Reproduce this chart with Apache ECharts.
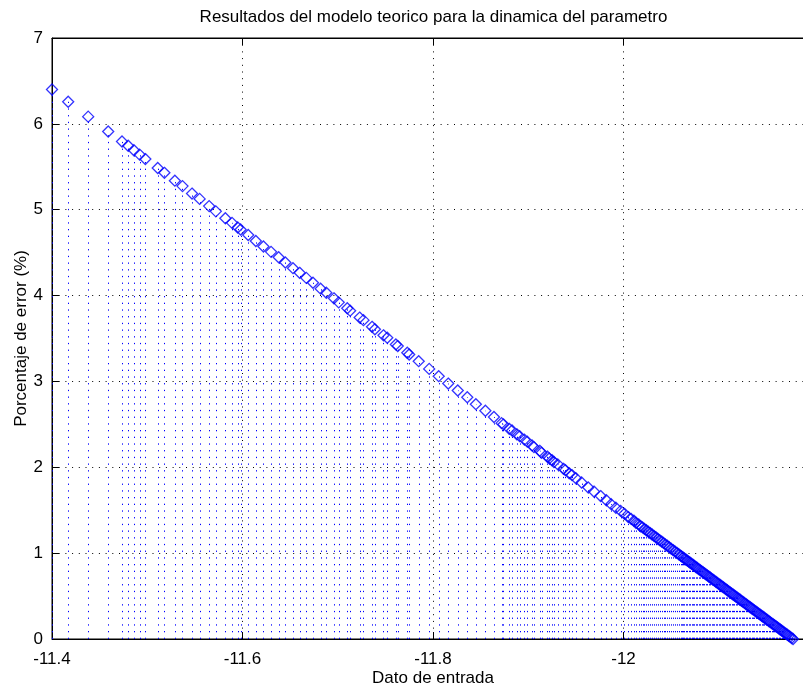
<!DOCTYPE html>
<html><head><meta charset="utf-8">
<script src="https://cdn.jsdelivr.net/npm/echarts@6/dist/echarts.min.js"></script>
<style>html,body{margin:0;padding:0;background:#fff}#c{width:803px;height:688px}</style>
</head><body><div id="c"></div>
<script>
const titulo = 'Resultados del modelo teorico para la dinamica del parametro';
const nombreX = 'Dato de entrada';
const nombreY = 'Porcentaje de error (%)';
const ticksX = [-11.4, -11.6, -11.8, -12, -12.2];
const ticksY = [0, 1, 2, 3, 4, 5, 6, 7];

const datoEntrada = [
  -11.400,-11.417,-11.438,-11.459,-11.4735,-11.480,-11.486,-11.492,-11.498,-11.511,
  -11.518,-11.529,-11.537,-11.547,-11.555,-11.565,-11.572,-11.582,-11.589,-11.595,
  -11.598,-11.606,-11.614,-11.622,-11.630,-11.638,-11.645,-11.653,-11.660,-11.667,
  -11.674,-11.682,-11.688,-11.696,-11.701,-11.710,-11.713,-11.723,-11.727,-11.736,
  -11.739,-11.748,-11.752,-11.761,-11.763,-11.773,-11.775,-11.785,-11.796,-11.806,
  -11.816,-11.826,-11.836,-11.845,-11.855,-11.864,-11.872,-11.874,-11.880,-11.883,
  -11.888,-11.891,-11.896,-11.899,-11.904,-11.906,-11.912,-11.914,-11.920,-11.922,
  -11.925,-11.927,-11.931,-11.937,-11.939,-11.943,-11.946,-11.950,-11.956,-11.963,
  -11.969,-11.976,-11.982,-11.987,-11.992,-11.997,-12.001,-12.005,-12.008,-12.011,
  -12.013,-12.016,-12.018,
  -12.020,-12.022,-12.024,-12.026,-12.028,-12.030,-12.032,-12.034,-12.036,-12.038,
  -12.040,-12.042,-12.044,-12.046,-12.048,-12.050,-12.052,-12.054,-12.056,-12.058,
  -12.060,
  -12.0610,-12.0625,-12.0640,-12.0655,-12.0670,-12.0685,-12.0700,-12.0715,-12.0730,-12.0745,
  -12.0760,-12.0775,-12.0790,-12.0805,-12.0820,-12.0835,-12.0850,-12.0865,-12.0880,-12.0895,
  -12.0910,-12.0925,-12.0940,-12.0955,-12.0970,-12.0985,-12.1000,-12.1015,-12.1030,-12.1045,
  -12.1060,-12.1075,-12.1090,-12.1105,-12.1120,-12.1135,-12.1150,-12.1165,-12.1180,-12.1195,
  -12.1210,-12.1225,-12.1240,-12.1255,-12.1270,-12.1285,-12.1300,-12.1315,-12.1330,-12.1345,
  -12.1360,-12.1375,-12.1390,-12.1405,-12.1420,-12.1435,-12.1450,-12.1465,-12.1480,-12.1495,
  -12.1510,-12.1525,-12.1540,-12.1555,-12.1570,-12.1585,-12.1600,-12.1615,-12.1630,-12.1645,
  -12.1660,-12.1675,-12.1690,-12.1705,-12.1720,-12.1735,-12.1750,-12.1765,-12.1780
];

const porcentajeError = [
  6.400,6.257,6.084,5.911,5.795,5.745,5.693,5.642,5.590,5.486,
  5.430,5.338,5.275,5.188,5.126,5.042,4.981,4.901,4.847,4.793,
  4.770,4.705,4.636,4.572,4.509,4.446,4.385,4.319,4.265,4.206,
  4.149,4.080,4.033,3.968,3.921,3.852,3.824,3.744,3.714,3.636,
  3.608,3.537,3.509,3.431,3.412,3.334,3.314,3.236,3.146,3.061,
  2.975,2.894,2.816,2.735,2.658,2.586,2.514,2.500,2.448,2.428,
  2.384,2.362,2.322,2.298,2.255,2.234,2.192,2.169,2.125,2.103,
  2.082,2.062,2.034,1.982,1.967,1.930,1.909,1.872,1.823,1.765,
  1.717,1.665,1.616,1.570,1.529,1.492,1.458,1.420,1.399,1.377,
  1.354,1.334,1.313,
  1.300,1.283,1.267,1.250,1.234,1.217,1.201,1.185,1.168,1.152,
  1.135,1.119,1.102,1.086,1.069,1.053,1.036,1.020,1.004,0.987,
  0.971,
  0.962,0.950,0.938,0.925,0.913,0.901,0.888,0.876,0.864,0.851,
  0.839,0.827,0.814,0.802,0.790,0.777,0.765,0.753,0.741,0.728,
  0.716,0.703,0.691,0.679,0.666,0.654,0.642,0.629,0.617,0.605,
  0.592,0.580,0.568,0.555,0.543,0.531,0.518,0.506,0.494,0.481,
  0.469,0.457,0.444,0.432,0.420,0.407,0.395,0.382,0.370,0.358,
  0.345,0.333,0.321,0.308,0.296,0.284,0.271,0.259,0.247,0.234,
  0.222,0.210,0.197,0.185,0.173,0.160,0.148,0.136,0.123,0.111,
  0.099,0.086,0.074,0.062,0.049,0.037,0.025,0.012,0.000
];

const puntos = datoEntrada.map((x, i) => [x, porcentajeError[i]]);
const FONT = '"Liberation Sans", Arial, Helvetica, sans-serif';
const gridDash = { color: '#000', width: 1, type: [1, 5.7] };
const xMin = ticksX[ticksX.length - 1], xMax = ticksX[0];

const chart = echarts.init(document.getElementById('c'), null, { renderer: 'canvas' });
chart.setOption({
  animation: false,
  backgroundColor: '#fff',
  title: {
    text: titulo, left: 428.5, top: 4, textAlign: 'center',
    textStyle: { fontFamily: FONT, fontSize: 17, fontWeight: 'normal', color: '#000' }
  },
  grid: { left: 52, top: 38, right: -11, bottom: 49, show: true, borderColor: '#000', borderWidth: 1,
          containLabel: false, outerBoundsMode: 'none' },
  xAxis: [{
    type: 'value', inverse: true,
    min: xMin, max: xMax, interval: 0.2,
    name: nombreX, nameLocation: 'middle', nameGap: 31, nameMoveOverlap: false,
    nameTextStyle: { fontFamily: FONT, fontSize: 17, color: '#000' },
    axisLine: { lineStyle: { color: '#000', width: 1 } },
    axisTick: { inside: true, length: 7, lineStyle: { color: '#000' } },
    axisLabel: { fontFamily: FONT, fontSize: 17, color: '#000', margin: 12,
                 formatter: v => (v < -12.1 ? '' : String(Math.round(v * 10) / 10)) },
    splitLine: { show: true, lineStyle: gridDash }
  }, {
    type: 'value', inverse: true, position: 'top',
    min: xMin, max: xMax, interval: 0.2,
    axisLine: { lineStyle: { color: '#000', width: 1 } },
    axisTick: { inside: true, length: 7, lineStyle: { color: '#000' } },
    axisLabel: { show: false },
    splitLine: { show: false }
  }],
  yAxis: {
    type: 'value', min: ticksY[0], max: ticksY[ticksY.length - 1], interval: 1,
    name: nombreY, nameLocation: 'middle', nameGap: 22, nameRotate: 90, nameMoveOverlap: false,
    nameTextStyle: { fontFamily: FONT, fontSize: 17, color: '#000' },
    axisLine: { show: true, lineStyle: { color: '#000', width: 1 } },
    axisTick: { show: true, inside: true, length: 7, lineStyle: { color: '#000' } },
    axisLabel: { fontFamily: FONT, fontSize: 17, color: '#000', margin: 9 },
    splitLine: { show: true, lineStyle: gridDash }
  },
  series: [{
    type: 'custom',
    data: puntos,
    z: 2,
    clip: false,
    renderItem: function (params, api) {
      const p0 = api.coord([api.value(0), 0]);
      const p1 = api.coord([api.value(0), api.value(1)]);
      const sx = Math.round(p0[0]) + 0.5;
      return {
        type: 'line',
        shape: { x1: sx, y1: p0[1], x2: sx, y2: p1[1] },
        style: { stroke: '#0000ff', lineWidth: 1, lineDash: [1.3, 5.4], opacity: 1 }
      };
    }
  }, {
    type: 'scatter',
    data: puntos,
    z: 3,
    clip: false,
    symbol: 'diamond',
    symbolSize: [11, 11],
    itemStyle: { color: 'rgba(0,0,0,0)', borderColor: '#0000ff', borderWidth: 1.3 }
  }]
});
</script></body></html>
